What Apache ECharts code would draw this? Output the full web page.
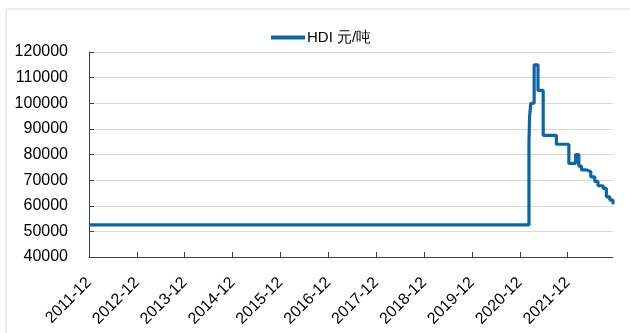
<!DOCTYPE html>
<html>
<head>
<meta charset="utf-8">
<script src="https://cdn.jsdelivr.net/npm/echarts@6/dist/echarts.min.js"></script>
<style>
  html, body { margin: 0; padding: 0; background: #fff; }
  #chart { width: 630px; height: 333px; }
</style>
</head>
<body>
<div id="chart"></div>
<script>
// 价格变动日期 (每次变动后的价格一直维持到下一次变动)
var priceDates = [
  "2011-12-01", "2021-02-10", "2021-02-15", "2021-02-24", "2021-03-19",
  "2021-04-18", "2021-05-27", "2021-09-06", "2021-12-10", "2022-02-01",
  "2022-02-25", "2022-03-15", "2022-04-22", "2022-05-25", "2022-06-25",
  "2022-07-19", "2022-08-28", "2022-09-22", "2022-10-18", "2022-11-12"
];
var priceValues = [
  52500, 85000, 95000, 100000, 115000,
  105000, 87500, 84000, 76500, 80000,
  75500, 74000, 73300, 71300, 69500,
  67800, 66800, 63500, 62200, 60600
];
var tickLabels = ["2011-12", "2012-12", "2013-12", "2014-12", "2015-12", "2016-12",
  "2017-12", "2018-12", "2019-12", "2020-12", "2021-12"];
var seriesName = "HDI 元/吨";

// 从2011-12起算的月数
function monthIdx(s) {
  var p = s.split("-");
  return (+p[0] - 2011) * 12 + (+p[1] - 12) + (+p[2] - 1) / 30;
}

var tickPos = tickLabels.map(function (t) { return monthIdx(t + "-01"); });
var lineData = priceDates.map(function (d, i) { return [monthIdx(d), priceValues[i]]; });

var font = 'Arial, "Liberation Sans", sans-serif';
var chart = echarts.init(document.getElementById("chart"));
var option = {
  animation: false,
  graphic: [{
    type: "rect",
    shape: { x: 6, y: 9, width: 700, height: 400 },
    style: { fill: "none", stroke: "#d9d9d9", lineWidth: 1 },
    silent: true
  }],
  legend: {
    left: 266,
    top: 25,
    itemWidth: 34,
    itemHeight: 4,
    itemGap: 10,
    icon: "rect",
    textStyle: { fontSize: 15, color: "#000", fontFamily: font, padding: [0, 0, 0, -3] },
    data: [seriesName]
  },
  grid: { left: 89, right: 17, top: 52, bottom: 76, containLabel: false },
  xAxis: {
    type: "value",
    min: 0,
    max: lineData[lineData.length - 1][0],
    splitLine: { show: false },
    axisLine: { show: true, lineStyle: { color: "#404040", width: 1 } },
    axisTick: { show: true, inside: true, length: 5, customValues: tickPos, lineStyle: { color: "#404040" } },
    axisLabel: {
      customValues: tickPos,
      rotate: 45,
      margin: 23,
      fontSize: 16,
      color: "#000",
      fontFamily: font,
      formatter: function (v) {
        var i = Math.round(v / 12);
        return tickLabels[i] || "";
      }
    }
  },
  yAxis: {
    type: "value",
    min: 40000,
    max: 120000,
    interval: 10000,
    axisLine: { show: true, lineStyle: { color: "#404040", width: 1 } },
    axisTick: { show: true, inside: true, length: 5, lineStyle: { color: "#404040" } },
    splitLine: { show: true, lineStyle: { color: "#d9d9d9", width: 1 } },
    axisLabel: {
      fontSize: 16, color: "#000", fontFamily: font, margin: 21,
      formatter: function (v) { return String(v); }
    }
  },
  series: [{
    name: seriesName,
    type: "line",
    step: "end",
    showSymbol: false,
    data: lineData,
    lineStyle: { color: "#0e65a6", width: 3.2 },
    itemStyle: { color: "#0e65a6" }
  }]
};
chart.setOption(option);
</script>
</body>
</html>
